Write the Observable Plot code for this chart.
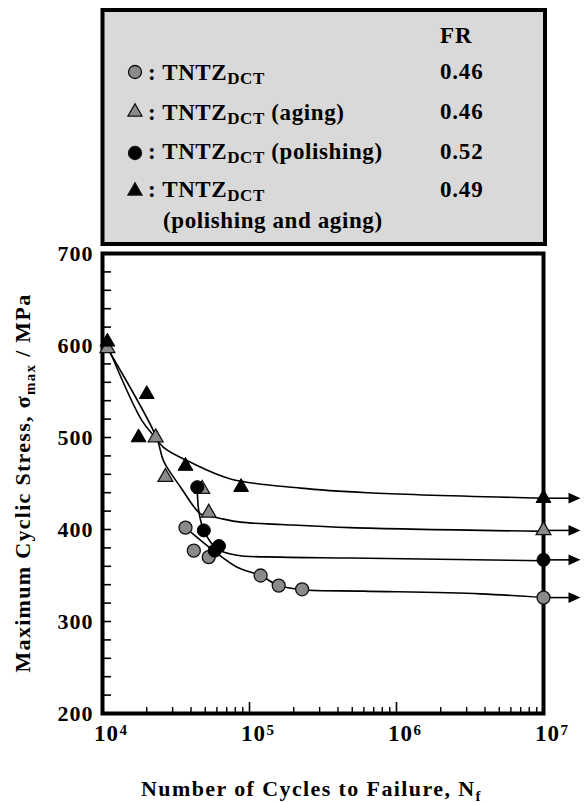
<!DOCTYPE html>
<html>
<head>
<meta charset="utf-8">
<script src="https://cdn.jsdelivr.net/npm/d3@7"></script>
<script src="https://cdn.jsdelivr.net/npm/@observablehq/plot@0.6"></script>
<style>
  body { margin: 0; background: #fff; }
  svg { display: block; }
</style>
</head>
<body>
<div id="chart"></div>
<script>
// ---------- data ----------
// TNTZ_DCT  (gray circles)
const grayCircleN = [3.67e4, 4.18e4, 5.28e4, 1.19e5, 1.58e5, 2.28e5, 1e7];
const grayCircleS = [402, 377, 370, 350, 339, 335, 326];
// TNTZ_DCT (aging)  (gray triangles)
const grayTriN = [1.08e4, 2.3e4, 2.68e4, 4.77e4, 5.28e4, 1e7];
const grayTriS = [597, 500, 457, 444, 418, 399];
// TNTZ_DCT (polishing)  (black circles)
const blackCircleN = [4.41e4, 4.89e4, 5.8e4, 6.2e4, 1e7];
const blackCircleS = [446, 399, 377, 382, 367];
// TNTZ_DCT (polishing and aging)  (black triangles)
const blackTriN = [1.08e4, 1.76e4, 2.0e4, 3.67e4, 8.77e4, 1e7];
const blackTriS = [604, 500, 547, 469, 446, 434];

// fitted S-N curves
const blackTriCurveN = [1.08e4, 1.86e4, 2.29e4, 2.61e4, 3.97e4, 7.43e4, 2.22e5, 6.35e5, 1e7];
const blackTriCurveS = [600, 518, 500, 489, 473, 455, 445, 440, 434];
const grayTriCurveN = [1.08e4, 2.33e4, 2.61e4, 3.4e4, 4.64e4, 5.28e4, 6.35e4, 8.7e4, 1.63e5, 4.86e5, 1e7];
const grayTriCurveS = [597, 500, 474, 446, 417, 415, 412, 408, 405.5, 402, 398];
const blackCircleCurveN = [4.41e4, 4.52e4, 4.89e4, 6.0e4, 8.24e4, 1.63e5, 4.86e5, 1e7];
const blackCircleCurveS = [446, 420, 399, 379, 372, 370, 369, 366];
const grayCircleCurveN = [3.67e4, 5.69e4, 8.24e4, 1.19e5, 1.58e5, 2.28e5, 5.97e5, 3.72e6, 1e7];
const grayCircleCurveS = [402, 377, 359, 350, 339, 334.5, 333, 330, 326];

// axes
const yTickLabels = [200, 300, 400, 500, 600, 700];
const xTickLabels = [1e4, 1e5, 1e6, 1e7];
const runoutN = 1e7;

// legend
const legendNames = ["", " (aging)", " (polishing)", ""];
const legendFR = ["0.46", "0.46", "0.52", "0.49"];

// ---------- helpers ----------
const rows = (N, S) => N.map((n, i) => ({N: n, S: S[i]}));
const grayCircles = rows(grayCircleN, grayCircleS);
const grayTris = rows(grayTriN, grayTriS);
const blackCircles = rows(blackCircleN, blackCircleS);
const blackTris = rows(blackTriN, blackTriS);
const runouts = [...blackTris, ...grayTris, ...blackCircles, ...grayCircles].filter(d => d.N >= runoutN);

const yMinor = d3.range(220, 700, 20);
const xMinor = [];
for (let e = 4; e < 7; e++) for (let k = 2; k <= 9; k++) xMinor.push(k * 10 ** e);
const xMajorInner = xTickLabels.slice(1, -1);

const W = 584, H = 803;
const mL = 102, mR = 41, mT = 253, mB = 90;
const fw = W - mL - mR, fh = H - mT - mB;

const GRAY = "#8a8a8a";
const FONT = "'Liberation Serif', 'Times New Roman', serif";

const arrowHead = {
  draw(ctx, size) {
    const r = Math.sqrt(size / Math.PI);
    ctx.moveTo(r, 0); ctx.lineTo(-r, -0.9 * r); ctx.lineTo(-r, 0.9 * r); ctx.closePath();
  }
};

const curve = (N, S) => Plot.line(rows(N, S), {x: "N", y: "S", curve: "catmull-rom", stroke: "black", strokeWidth: 1.6});

const plot = Plot.plot({
  width: W, height: H,
  marginLeft: mL, marginRight: mR, marginTop: mT, marginBottom: mB,
  x: {type: "log", domain: [1e4, 1e7], axis: null},
  y: {domain: [200, 700], axis: null},
  style: {fontFamily: FONT, fontWeight: "bold", background: "white", overflow: "visible", color: "black", letterSpacing: "1px"},
  marks: [
    Plot.tickY(yMinor, {y: d => d, insetRight: fw - 9, stroke: "black", strokeWidth: 1.6}),
    Plot.tickX(xMinor, {x: d => d, insetTop: fh - 6, stroke: "black", strokeWidth: 1.4}),
    Plot.tickX(xMajorInner, {x: d => d, insetTop: fh - 11, stroke: "black", strokeWidth: 1.6}),
    curve(blackTriCurveN, blackTriCurveS),
    curve(grayTriCurveN, grayTriCurveS),
    curve(blackCircleCurveN, blackCircleCurveS),
    curve(grayCircleCurveN, grayCircleCurveS),
    Plot.tickY(runouts, {y: "S", insetLeft: fw, insetRight: -27, stroke: "black", strokeWidth: 1.6}),
    Plot.dot(runouts, {x: "N", y: "S", symbol: arrowHead, r: 6, dx: 31, fill: "black", stroke: "none"}),
    Plot.frame({stroke: "black", strokeWidth: 4}),
    Plot.dot(grayTris, {x: "N", y: "S", symbol: "triangle", r: 5.5, fill: GRAY, stroke: "#111", strokeWidth: 1.3}),
    Plot.dot(grayCircles, {x: "N", y: "S", symbol: "circle", r: 6.5, fill: GRAY, stroke: "#111", strokeWidth: 1.3}),
    Plot.dot(blackCircles, {x: "N", y: "S", symbol: "circle", r: 6.5, fill: "black", stroke: "black", strokeWidth: 1}),
    Plot.dot(blackTris, {x: "N", y: "S", symbol: "triangle", r: 5.5, fill: "black", stroke: "black", strokeWidth: 1}),
    Plot.text(yTickLabels, {y: d => d, frameAnchor: "left", dx: -9, textAnchor: "end", text: d => String(d),
      fontSize: 22, fontWeight: "bold", fill: "black"}),
    Plot.text(xTickLabels, {x: d => d, frameAnchor: "bottom", dx: 4, dy: 27, textAnchor: "middle", text: () => "10",
      fontSize: 23, fontWeight: "bold", fill: "black"}),
    Plot.text(xTickLabels, {x: d => d, frameAnchor: "bottom", dx: 17, dy: 21, textAnchor: "start", text: d => String(Math.round(Math.log10(d))),
      fontSize: 15, fontWeight: "bold", fill: "black"})
  ]
});

document.getElementById("chart").appendChild(plot);

// ---------- axis titles and legend (text) ----------
const svg = d3.select(plot);

// y title
const yt = svg.append("text")
  .attr("transform", `translate(30,${mT + fh / 2}) rotate(-90)`)
  .attr("text-anchor", "middle").attr("font-size", 22).attr("font-weight", "bold")
  .attr("font-family", FONT).attr("fill", "black").style("letter-spacing", "1.3px");
yt.append("tspan").text("Maximum Cyclic Stress, σ");
yt.append("tspan").attr("font-size", 15).attr("dy", 5).text("max");
yt.append("tspan").attr("dy", -5).text(" / MPa");

// x title
const xt = svg.append("text")
  .attr("x", mL + fw / 2 - 11).attr("y", 796)
  .attr("text-anchor", "middle").attr("font-size", 22).attr("font-weight", "bold")
  .attr("font-family", FONT).attr("fill", "black").style("letter-spacing", "1.4px");
xt.append("tspan").text("Number of Cycles to Failure, N");
xt.append("tspan").attr("font-size", 15).attr("dy", 5).text("f");

// legend box
const lg = svg.append("g").attr("font-family", FONT).attr("font-weight", "bold")
  .attr("fill", "black").attr("text-anchor", "start");
lg.append("rect").attr("x", 102.5).attr("y", 10).attr("width", 442.5).attr("height", 234)
  .attr("fill", "#d9d9d9").attr("stroke", "black").attr("stroke-width", 4);

lg.append("text").attr("x", 440).attr("y", 43).attr("font-size", 23).style("letter-spacing", "1px").text("FR");

const markerY = [72, 112, 153, 191];
const textY = [80, 119.5, 159, 197];
const valY = [78.5, 118.5, 158.5, 197];
const markerStyle = [
  {type: d3.symbolCircle, r: 6.5, fill: GRAY},
  {type: d3.symbolTriangle, r: 5.2, fill: GRAY},
  {type: d3.symbolCircle, r: 6.5, fill: "black"},
  {type: d3.symbolTriangle, r: 5.2, fill: "black"}
];
markerStyle.forEach((m, i) => {
  lg.append("path")
    .attr("d", d3.symbol().type(m.type).size(Math.PI * m.r * m.r)())
    .attr("transform", `translate(135,${markerY[i]})`)
    .attr("fill", m.fill).attr("stroke", "#111").attr("stroke-width", 1.3);
  const t = lg.append("text").attr("x", 148).attr("y", textY[i]).attr("font-size", 23)
    .attr("text-anchor", "start").style("letter-spacing", "0.6px");
  t.append("tspan").text(": TNTZ");
  t.append("tspan").attr("font-size", 17).attr("dy", 4).text("DCT");
  t.append("tspan").attr("dy", -4).text(legendNames[i]);
  lg.append("text").attr("x", 440).attr("y", valY[i]).attr("font-size", 23)
    .attr("text-anchor", "start").style("letter-spacing", "0.8px").text(legendFR[i]);
});
lg.append("text").attr("x", 163).attr("y", 228).attr("font-size", 23)
  .attr("text-anchor", "start").style("letter-spacing", "0.6px").text("(polishing and aging)");
</script>
</body>
</html>
